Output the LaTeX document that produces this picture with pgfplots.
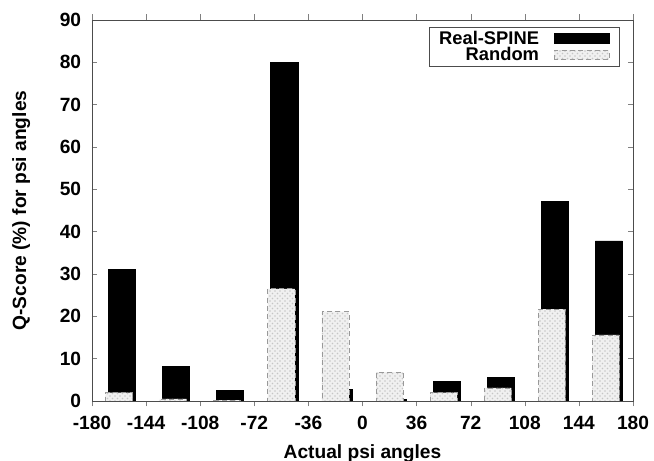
\documentclass[border=0pt]{standalone}
\usepackage{fontspec}
\setmainfont{Liberation Sans}
\usepackage{pgfplots}
\pgfplotsset{compat=1.18}
\usetikzlibrary{patterns}
\begin{document}
\begin{tikzpicture}
\begin{axis}[
scale only axis,width=324.6pt,height=228.6pt,
xmin=-180,xmax=180,ymin=0,ymax=90,
xtick={-180,-144,...,180},ytick={0,10,...,90},
tick align=inside,major tick length=3.3pt,
font=\fontsize{11.5}{13}\bfseries,
/pgf/number format/assume math mode=true,
ticklabel style={font=\fontsize{11.5}{13}\bfseries},
yticklabel style={xshift=-3pt},
xticklabel style={yshift=-2.5pt},
xlabel={Actual psi angles},ylabel={Q-Score (\%) for psi angles},
xlabel style={at={(axis description cs:0.5,-0.137)},anchor=center},
ylabel style={at={(axis description cs:-0.131,0.5)},anchor=center},
axis line style={black!70},
ybar,bar width=18,bar shift=0pt,
legend style={at={(axis description cs:1,1)},anchor=north east,
  xshift=-7.8pt,yshift=-4.2pt,draw=black!70,
  inner xsep=6pt,inner ysep=3.2pt,column sep=9pt,row sep=3pt,
  nodes={inner sep=0pt,text height=7pt,text depth=0pt},
  font=\fontsize{11}{12}\bfseries},
legend plot pos=right,legend cell align=right,
legend image code/.code={\draw[#1] (0pt,-2.8pt) rectangle (33pt,2.8pt);},
]
\coordinate (sw) at (rel axis cs:0,0);
\coordinate (ne) at (rel axis cs:1,1);
\addplot[fill=black,draw=black] coordinates {
(-160,31.0) (-124,8.1) (-88,2.4) (-52,80.0) (-16,2.8)
(20,0.3) (56,4.7) (92,5.5) (128,47.2) (164,37.8)};
\addlegendentry{Real-SPINE}
\addplot[fill=gray!12,draw=gray!80,densely dashed,
  postaction={pattern=crosshatch dots,pattern color=gray!45}] coordinates {
(-162,2.0) (-126,0.5) (-90,0.2) (-54,26.5) (-18,21.1)
(18,6.8) (54,2.0) (90,3.1) (126,21.7) (162,15.6)};
\addlegendentry{Random}
\end{axis}
\pgfresetboundingbox
\path ([shift={(-55.2pt,-36pt)}]sw) rectangle ([shift={(12.6pt,12pt)}]ne);
\end{tikzpicture}
\end{document}
